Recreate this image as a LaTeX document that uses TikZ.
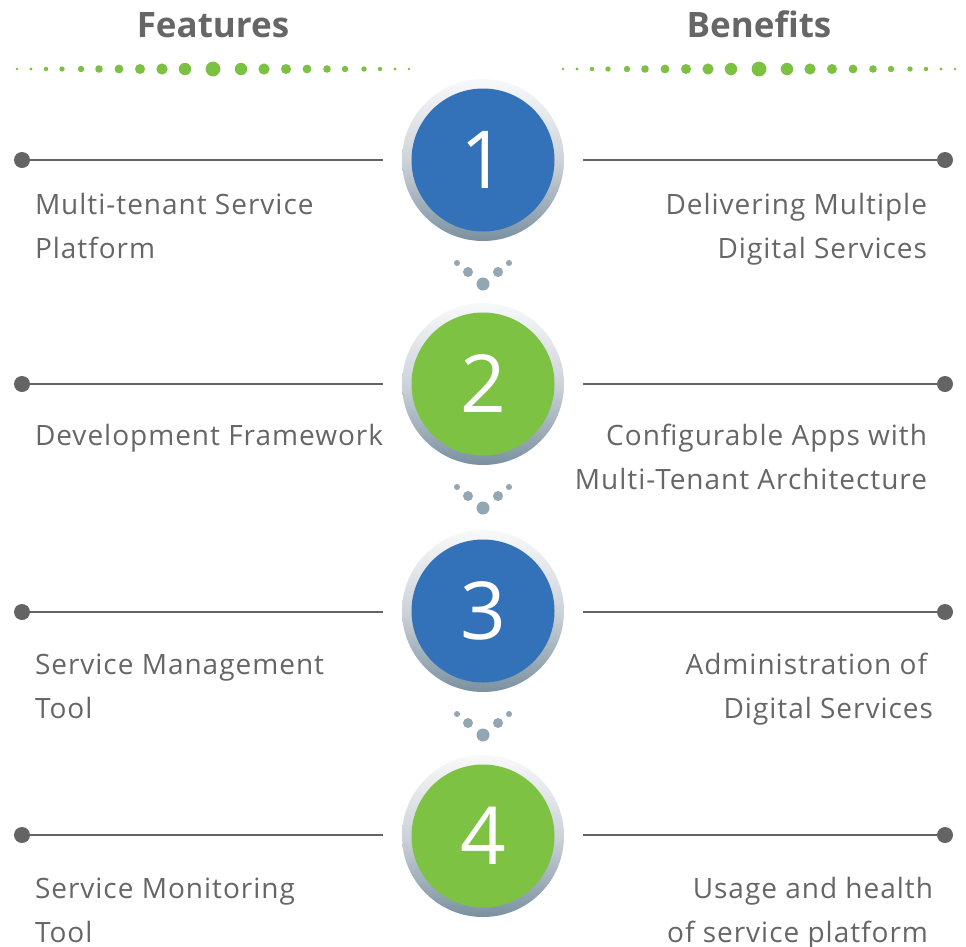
\documentclass[tikz,border=0pt]{standalone}
\usepackage{fontspec}
\setmainfont{Open Sans}
\usetikzlibrary{positioning,calc}

\definecolor{textGray}{HTML}{666666}
\definecolor{lineGray}{HTML}{646464}
\definecolor{dotGreen}{HTML}{7CC142}
\definecolor{stepBlue}{HTML}{3372B8}
\definecolor{stepGreen}{HTML}{7DC243}
\definecolor{ringTop}{HTML}{F8F9FA}
\definecolor{ringMid}{HTML}{CDD3D9}
\definecolor{ringBottom}{HTML}{7A91A0}
\definecolor{chainGray}{HTML}{93A6B1}

\begin{document}
\begin{tikzpicture}[x=1pt, y=-1pt,
    every node/.style={inner sep=0pt, outer sep=0pt},
    headText/.style={font=\fontsize{35}{35}\selectfont\bfseries, text=textGray, anchor=base},
    featText/.style={font=\fontsize{28}{44}\selectfont\addfontfeatures{LetterSpace=3.5}, text=textGray, align=left, anchor=base west},
    benText/.style={font=\fontsize{28}{44}\selectfont\addfontfeatures{LetterSpace=3.5}, text=textGray, align=right, anchor=base east},
    ringDisc/.style={circle, minimum size=162pt, top color=ringTop, bottom color=ringBottom, middle color=ringMid},
    blueDisc/.style={circle, minimum size=143pt, fill=stepBlue, text=white, font=\fontsize{80}{80}\selectfont},
    greenDisc/.style={blueDisc, fill=stepGreen},
    lineDot/.style={circle, fill=lineGray, minimum size=16pt},
    rowLine/.style={draw=lineGray, line width=2.5pt}
  ]
  \useasboundingbox (0,0) rectangle (966,946);

  % Headers with dotted rules
  \node[headText] (feat) at (213,37) {Features};
  \node[headText] (ben) at (759,37) {Benefits};
  \foreach \d/\r in {0/7.4, 28/6.2, 51/5.6, 73/5, 94/4.4, 114/3.8, 132/3.2, 151/2.7, 167/2.2, 182/1.7, 196/1.3}{
      \fill[dotGreen] (213-\d,69) circle (\r pt) (213+\d,69) circle (\r pt);
      \fill[dotGreen] (759-\d,69) circle (\r pt) (759+\d,69) circle (\r pt);
    }

  % Steps
  \node[ringDisc] (ring1) at (483,160) {};
  \node[blueDisc] (num1) at (ring1) {1};
  \node[ringDisc] (ring2) at (483,384) {};
  \node[greenDisc] (num2) at (ring2) {2};
  \node[ringDisc] (ring3) at (483,611) {};
  \node[blueDisc] (num3) at (ring3) {3};
  \node[ringDisc] (ring4) at (483,836) {};
  \node[greenDisc] (num4) at (ring4) {4};

  % Little dots between the steps
  \foreach \s in {ring1, ring2, ring3}{
      \fill[chainGray] ($(\s)+(-26,103)$) circle (3pt) ($(\s)+(26,103)$) circle (3pt);
      \fill[chainGray] ($(\s)+(-15,112)$) circle (5pt) ($(\s)+(15,112)$) circle (5pt);
      \fill[chainGray] ($(\s)+(0,124)$) circle (6.5pt);
    }

  % Feature lines (left)
  \node[lineDot] (fdot1) at (22,160) {};
  \coordinate (fend1) at (383,160);
  \node[lineDot] (fdot2) at (22,384) {};
  \coordinate (fend2) at (383,384);
  \node[lineDot] (fdot3) at (22,612) {};
  \coordinate (fend3) at (383,612);
  \node[lineDot] (fdot4) at (22,835) {};
  \coordinate (fend4) at (383,835);
  \draw[rowLine] (fdot1) -- (fend1);
  \draw[rowLine] (fdot2) -- (fend2);
  \draw[rowLine] (fdot3) -- (fend3);
  \draw[rowLine] (fdot4) -- (fend4);

  % Benefit lines (right)
  \coordinate (bstart1) at (583,160);
  \node[lineDot] (bdot1) at (945,160) {};
  \coordinate (bstart2) at (583,384);
  \node[lineDot] (bdot2) at (945,384) {};
  \coordinate (bstart3) at (583,612);
  \node[lineDot] (bdot3) at (945,612) {};
  \coordinate (bstart4) at (583,835);
  \node[lineDot] (bdot4) at (945,835) {};
  \draw[rowLine] (bstart1) -- (bdot1);
  \draw[rowLine] (bstart2) -- (bdot2);
  \draw[rowLine] (bstart3) -- (bdot3);
  \draw[rowLine] (bstart4) -- (bdot4);

  % Texts (base = last line)
  \node[featText] (ftext1) at (35,258) {Multi-tenant Service\\Platform};
  \node[featText] (ftext2) at (35,445) {Development Framework};
  \node[featText] (ftext3) at (35,718) {Service Management\\Tool};
  \node[featText] (ftext4) at (35,942) {Service Monitoring\\Tool};
  \node[benText] (btext1) at (927,258) {Delivering Multiple\\Digital Services};
  \node[benText] (btext2) at (927,489) {Configurable Apps with\\Multi-Tenant Architecture};
  \node[benText] (btext3) at (933,718) {Administration of\hspace*{6pt}\\Digital Services};
  \node[benText] (btext4) at (933,942) {Usage and health\\of service platform\hspace*{5pt}};
\end{tikzpicture}
\end{document}
